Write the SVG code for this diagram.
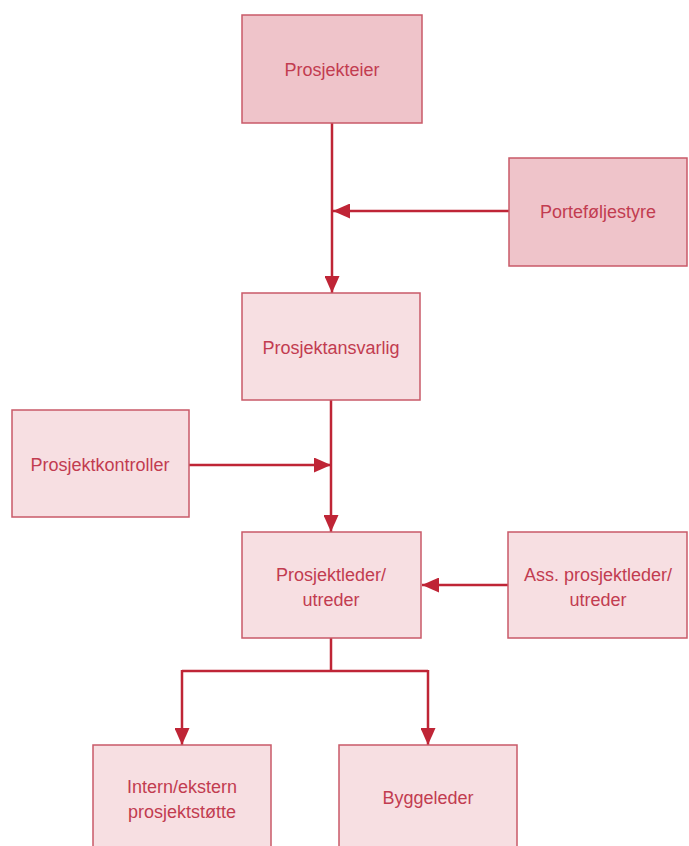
<svg xmlns="http://www.w3.org/2000/svg" width="689" height="846" viewBox="0 0 689 846">
<style>
.box{stroke:#c95a68;stroke-width:1.5}
.dark{fill:#efc4ca}
.light{fill:#f7dfe2}
.lbl{font-family:"Liberation Sans",Arial,sans-serif;font-size:18px;fill:#c23c50;text-anchor:middle;dominant-baseline:central}
.con{stroke:#bf2536;stroke-width:2.5;fill:none}
</style>
<defs>
<marker id="ah" markerWidth="17" markerHeight="15" refX="17" refY="7.5" orient="auto" markerUnits="userSpaceOnUse">
<path d="M0,0 L17,7.5 L0,15 Z" fill="#bf2536"/>
</marker>
</defs>
<rect width="689" height="846" fill="#ffffff"/>
<g id="connectors">
<path class="con" d="M332,123 V293" marker-end="url(#ah)"/>
<path class="con" d="M509,211 H333" marker-end="url(#ah)"/>
<path class="con" d="M331,400 V532" marker-end="url(#ah)"/>
<path class="con" d="M189,465 H331" marker-end="url(#ah)"/>
<path class="con" d="M508,585 H422" marker-end="url(#ah)"/>
<path class="con" d="M331,638 V671"/>
<path class="con" d="M182,671 H428"/>
<path class="con" d="M182,670 V745" marker-end="url(#ah)"/>
<path class="con" d="M428,670 V745" marker-end="url(#ah)"/>
</g>
<g id="prosjekteier">
<rect class="box dark" x="242" y="15" width="180" height="108"/>
<text class="lbl" x="332" y="70">Prosjekteier</text>
</g>
<g id="portefoljestyre">
<rect class="box dark" x="509" y="158" width="178" height="108"/>
<text class="lbl" x="598" y="212">Porteføljestyre</text>
</g>
<g id="prosjektansvarlig">
<rect class="box light" x="242" y="293" width="178" height="107"/>
<text class="lbl" x="331" y="348">Prosjektansvarlig</text>
</g>
<g id="prosjektkontroller">
<rect class="box light" x="12" y="410" width="177" height="107"/>
<text class="lbl" x="100" y="465">Prosjektkontroller</text>
</g>
<g id="prosjektleder">
<rect class="box light" x="242" y="532" width="179" height="106"/>
<text class="lbl" x="331" y="575">Prosjektleder/</text>
<text class="lbl" x="331" y="600">utreder</text>
</g>
<g id="ass-prosjektleder">
<rect class="box light" x="508" y="532" width="179" height="106"/>
<text class="lbl" x="598" y="575">Ass. prosjektleder/</text>
<text class="lbl" x="598" y="600">utreder</text>
</g>
<g id="intern-ekstern">
<rect class="box light" x="93" y="745" width="178" height="110"/>
<text class="lbl" x="182" y="787">Intern/ekstern</text>
<text class="lbl" x="182" y="812">prosjektstøtte</text>
</g>
<g id="byggeleder">
<rect class="box light" x="339" y="745" width="178" height="110"/>
<text class="lbl" x="428" y="798">Byggeleder</text>
</g>
</svg>
